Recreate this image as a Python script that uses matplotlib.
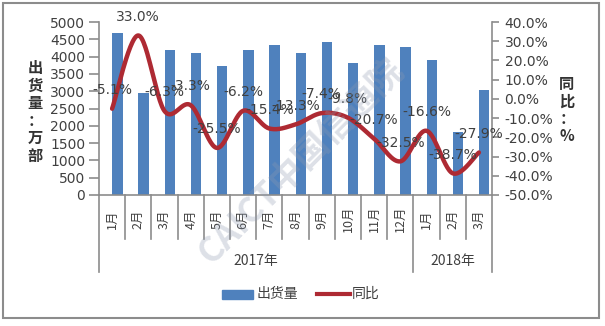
import numpy as np
import matplotlib.pyplot as plt
from matplotlib.patches import Rectangle
from matplotlib.lines import Line2D

plt.rcParams['font.family'] = ['DejaVu Sans', 'Noto Sans CJK SC']

months = ['1月', '2月', '3月', '4月', '5月', '6月', '7月', '8月', '9月',
          '10月', '11月', '12月', '1月', '2月', '3月']
years = ['2017年', '2018年']
year_spans = [(0, 12), (12, 15)]
shipments = [4694, 2952, 4183, 4117, 3731, 4183, 4328, 4117, 4423,
             3828, 4347, 4280, 3914, 1808, 3029]
yoy = [-5.1, 33.0, -6.3, -3.3, -25.5, -6.2, -15.4, -13.3, -7.4,
       -9.8, -20.7, -32.5, -16.6, -38.7, -27.9]

BAR = '#4F81BD'
LINE = '#AE2A33'
AXIS = '#8C8C8C'
TXT = '#404040'
CJK = ['Noto Sans CJK SC', 'DejaVu Sans']


def smooth(xs, ys, n=30):
    # bezier smoothing through every point (catmull-rom style control points)
    p = np.column_stack([xs, ys]).astype(float)
    p = np.vstack([p[:1], p, p[-1:]])
    out = []
    t = np.linspace(0, 1, n)[:, None]
    for i in range(1, len(p) - 2):
        p0, p3 = p[i], p[i + 1]
        c1 = p0 + (p[i + 1] - p[i - 1]) / 6
        c2 = p3 - (p[i + 2] - p[i]) / 6
        seg = ((1 - t) ** 3) * p0 + 3 * ((1 - t) ** 2) * t * c1 \
            + 3 * (1 - t) * t ** 2 * c2 + t ** 3 * p3
        out.append(seg if i == 1 else seg[1:])
    out = np.vstack(out)
    return out[:, 0], out[:, 1]


fig = plt.figure(figsize=(6.05, 3.26), dpi=100)
ax = fig.add_axes([99 / 605, 1 - 195 / 326, 393 / 605, 173 / 326])
x = np.arange(len(months))

ax.bar(x, shipments, width=0.4, align='edge', color=BAR, zorder=2)
ax.set_xlim(-0.5, len(months) - 0.5)
ax.set_ylim(0, 5000)
ax.set_yticks(np.arange(0, 5001, 500))
ax.set_xticks([])
for s in ['top', 'right']:
    ax.spines[s].set_visible(False)
for s in ['left', 'bottom']:
    ax.spines[s].set_color(AXIS)
    ax.spines[s].set_linewidth(1.2)
ax.tick_params(axis='y', colors=AXIS, labelcolor=TXT, labelsize=10,
               length=7, width=1.2, pad=3)

ax2 = ax.twinx()
ax2.set_ylim(-50, 40)
ax2.set_yticks(np.arange(-50, 41, 10))
ax2.set_yticklabels([f'{v:.1f}%' for v in np.arange(-50, 41, 10)])
for s in ['top', 'left', 'bottom']:
    ax2.spines[s].set_visible(False)
ax2.spines['right'].set_color(AXIS)
ax2.spines['right'].set_linewidth(1.2)
ax2.tick_params(axis='y', colors=AXIS, labelcolor=TXT, labelsize=10,
                length=5, width=1.2, pad=4)

sx, sy = smooth(x, yoy)
ax2.plot(sx, sy, color=LINE, lw=3.2, solid_capstyle='round', zorder=3)
for xi, v in zip(x, yoy):
    ax2.annotate(f'{v:.1f}%', (xi, v), xytext=(0, 13.5),
                 textcoords='offset points', ha='center', va='center',
                 fontsize=10, color=TXT, zorder=4)

# category axis: month separators, rotated month labels, year groups
tr = ax.get_xaxis_transform()
px = 1 / 173  # one pixel in axes-fraction units (vertical)
long_edges = {-0.5, 11.5, 14.5}
for e in np.arange(-0.5, len(months), 1.0):
    depth = 77 if e in long_edges else 44
    ax.add_line(Line2D([e, e], [0, -depth * px], transform=tr, color=AXIS,
                       lw=1.2, clip_on=False))
for xi, m in zip(x, months):
    ax.text(xi, -24 * px, m, transform=tr, rotation=90, ha='center',
            va='center', fontsize=9, color=TXT, family=CJK)
for (a, b), yname in zip(year_spans, years):
    ax.text((a + b - 1) / 2, -66 * px, yname, transform=tr, ha='center',
            va='center', fontsize=10, color=TXT, family=CJK)

# axis titles, stacked vertically
fig.text(35 / 605, 1 - 112 / 326, '\n'.join('出货量：万部'), ha='center',
         va='center', fontsize=11, fontweight='bold', color='#333333',
         family=CJK, linespacing=1.12)
fig.text(567 / 605, 1 - 110 / 326, '\n'.join('同比：%'), ha='center',
         va='center', fontsize=11, fontweight='bold', color='#333333',
         family=CJK, linespacing=1.12)

# legend
fig.patches.append(Rectangle((222 / 605, 1 - 298.5 / 326), 31 / 605, 9 / 326,
                             transform=fig.transFigure, color=BAR))
fig.text(257 / 605, 1 - 294 / 326, '出货量', ha='left', va='center',
         fontsize=10, color=TXT, family=CJK)
fig.lines.append(Line2D([317 / 605, 350 / 605], [1 - 294 / 326] * 2,
                        transform=fig.transFigure, color=LINE, lw=3))
fig.text(352 / 605, 1 - 294 / 326, '同比', ha='left', va='center',
         fontsize=10, color=TXT, family=CJK)

# faint diagonal watermark
fig.text(301 / 605, 1 - 161 / 326, 'CAICT中国信通院', rotation=45,
         ha='center', va='center', fontsize=25, fontweight='bold',
         color='#8E9AB0', alpha=0.3, family=CJK, zorder=10)

# outer frame
fig.patches.append(Rectangle((3 / 605, 1 - 318 / 326), 596 / 605, 315 / 326,
                             transform=fig.transFigure, fill=False,
                             edgecolor=AXIS, lw=1.5))

fig.savefig('out.png', dpi=100)
